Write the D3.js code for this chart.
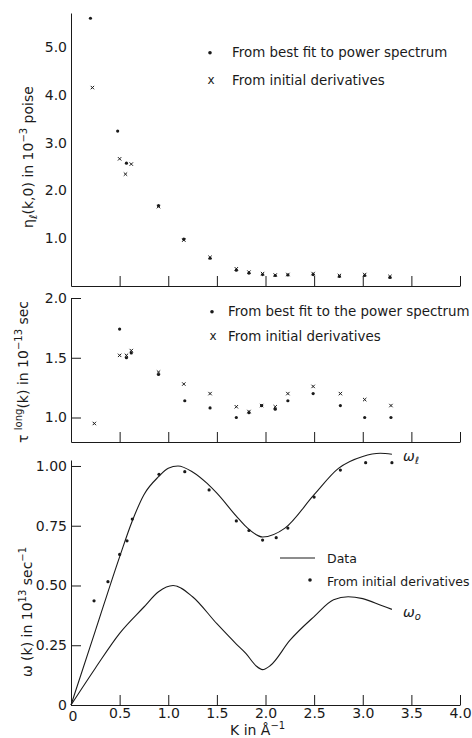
<!DOCTYPE html>
<html>
<head>
<meta charset="utf-8">
<script src="https://cdn.jsdelivr.net/npm/d3@7"></script>
<style>
  body { margin: 0; background: #fff; }
  svg { display: block; }
  text { font-family: "DejaVu Sans", sans-serif; fill: #1a1a1a; }
  .axis path, .axis line { stroke: #1a1a1a; stroke-width: 1; }
  .axis text { font-size: 14px; font-family: "DejaVu Sans", sans-serif; fill: #1a1a1a; }
</style>
</head>
<body>
<script>
// 數據: 上圖 eta_l(k,0)
const etaDotK   = [0.2, 0.48, 0.57, 0.9, 1.16, 1.43, 1.7, 1.83, 1.97, 2.1, 2.23, 2.49, 2.76, 3.02, 3.28];
const etaDotV   = [5.6, 3.24, 2.57, 1.68, 0.98, 0.58, 0.33, 0.27, 0.24, 0.22, 0.23, 0.24, 0.20, 0.22, 0.18];
const etaCrossK = [0.22, 0.5, 0.56, 0.62, 0.9, 1.16, 1.43, 1.7, 1.83, 1.97, 2.1, 2.23, 2.49, 2.76, 3.02, 3.28];
const etaCrossV = [4.15, 2.66, 2.34, 2.55, 1.66, 0.96, 0.60, 0.36, 0.29, 0.26, 0.23, 0.24, 0.26, 0.22, 0.24, 0.20];

// 中圖 tau long(k)
const tauDotK   = [0.5, 0.57, 0.62, 0.9, 1.17, 1.43, 1.7, 1.83, 1.96, 2.1, 2.23, 2.49, 2.77, 3.02, 3.29];
const tauDotV   = [1.74, 1.50, 1.54, 1.36, 1.14, 1.08, 1.0, 1.04, 1.10, 1.07, 1.14, 1.20, 1.10, 1.0, 1.0];
const tauCrossK = [0.24, 0.5, 0.57, 0.62, 0.9, 1.16, 1.43, 1.7, 1.83, 1.96, 2.1, 2.23, 2.49, 2.77, 3.02, 3.29];
const tauCrossV = [0.95, 1.52, 1.52, 1.56, 1.38, 1.28, 1.20, 1.09, 1.05, 1.10, 1.09, 1.20, 1.26, 1.20, 1.15, 1.10];

// 下圖 omega(k)
const omDotK = [0.237, 0.38, 0.5, 0.576, 0.63, 0.905, 1.17, 1.42, 1.70, 1.83, 1.97, 2.11, 2.23, 2.5, 2.77, 3.03, 3.30];
const omDotV = [0.436, 0.516, 0.63, 0.687, 0.778, 0.965, 0.976, 0.90, 0.77, 0.73, 0.69, 0.70, 0.74, 0.87, 0.983, 1.014, 1.014];
const omegaLK = [0, 0.25, 0.5, 0.63, 0.75, 0.9, 1.0, 1.1, 1.25, 1.4, 1.5, 1.7, 1.8, 1.97, 2.2, 2.5, 2.75, 3.0, 3.18, 3.3];
const omegaLV = [0, 0.31, 0.62, 0.77, 0.88, 0.955, 0.99, 1.0, 0.975, 0.927, 0.886, 0.79, 0.746, 0.703, 0.74, 0.88, 0.99, 1.04, 1.053, 1.049];
const omega0K = [0, 0.25, 0.5, 0.75, 0.9, 1.05, 1.25, 1.5, 1.7, 1.8, 1.9, 1.97, 2.05, 2.25, 2.5, 2.7, 2.85, 3.0, 3.2, 3.3];
const omega0V = [0, 0.154, 0.30, 0.41, 0.474, 0.50, 0.453, 0.34, 0.255, 0.215, 0.165, 0.148, 0.165, 0.27, 0.37, 0.44, 0.453, 0.445, 0.415, 0.40];

// 刻度
const xTicks = [0.5, 1.0, 1.5, 2.0, 2.5, 3.0, 3.5, 4.0];
const etaTicks = [1.0, 2.0, 3.0, 4.0, 5.0];
const tauTicks = [1.0, 1.5, 2.0];
const omTicks = [0, 0.25, 0.5, 0.75, 1.0];

const width = 472, height = 738;

const svg = d3.select("body").append("svg")
  .attr("width", width)
  .attr("height", height);

// 共用 x 比例尺
const x = d3.scaleLinear().domain([0, 4]).range([71, 460]);

// 各面板 y 比例尺
const yEta = d3.scaleLinear().domain([0, 5.71]).range([286, 13]);
const yTau = d3.scaleLinear().domain([0.795, 2.0]).range([442, 298]);
const yOm  = d3.scaleLinear().domain([0, 1.025]).range([705, 460]);

const fmt1 = d => d === 0 ? "0" : d3.format(".1f")(d);
const fmt2 = d => d === 0 ? "0" : d3.format(".2f")(d);

function drawXAxis(y0, ticks, withLabels) {
  const ax = d3.axisBottom(x)
    .tickValues(ticks)
    .tickSizeInner(-10)
    .tickSizeOuter(0)
    .tickPadding(3)
    .tickFormat(withLabels ? fmt1 : "");
  svg.append("g")
    .attr("class", "axis")
    .attr("transform", `translate(0,${y0})`)
    .call(ax);
}

function drawYAxis(scale, ticks, size, fmt) {
  const ax = d3.axisLeft(scale)
    .tickValues(ticks)
    .tickSizeInner(size)
    .tickSizeOuter(0)
    .tickPadding(4)
    .tickFormat(fmt);
  svg.append("g")
    .attr("class", "axis")
    .attr("transform", `translate(${x(0)},0)`)
    .call(ax);
}

// 上圖軸
drawXAxis(286, xTicks, false);
drawYAxis(yEta, etaTicks, 0, fmt1);
// 中圖軸
drawXAxis(442, xTicks, false);
drawYAxis(yTau, tauTicks, -10, fmt1);
// 下圖軸
drawXAxis(705, xTicks, true);
svg.append("text").attr("x", x(0) + 2).attr("y", 721)
  .attr("text-anchor", "middle").style("font-size", "14px").text("0");
drawYAxis(yOm, omTicks, -10, fmt2);

// 點與叉號
function dots(ks, vs, y) {
  svg.append("g").selectAll("circle")
    .data(ks.map((k, i) => [k, vs[i]]))
    .join("circle")
    .attr("cx", d => x(d[0]))
    .attr("cy", d => y(d[1]))
    .attr("r", 1.6)
    .attr("fill", "#1a1a1a");
}
function crosses(ks, vs, y) {
  const s = 1.7;
  svg.append("g").selectAll("path")
    .data(ks.map((k, i) => [k, vs[i]]))
    .join("path")
    .attr("d", d => {
      const cx = x(d[0]), cy = y(d[1]);
      return `M${cx - s},${cy - s}L${cx + s},${cy + s}M${cx + s},${cy - s}L${cx - s},${cy + s}`;
    })
    .attr("stroke", "#1a1a1a")
    .attr("stroke-width", 1);
}

dots(etaDotK, etaDotV, yEta);
crosses(etaCrossK, etaCrossV, yEta);
dots(tauDotK, tauDotV, yTau);
crosses(tauCrossK, tauCrossV, yTau);

// 下圖曲線
const line = d3.line()
  .x(d => x(d[0]))
  .y(d => yOm(d[1]))
  .curve(d3.curveMonotoneX);

svg.append("path")
  .datum(omegaLK.map((k, i) => [k, omegaLV[i]]))
  .attr("d", line)
  .attr("fill", "none")
  .attr("stroke", "#1a1a1a")
  .attr("stroke-width", 1.1);

svg.append("path")
  .datum(omega0K.map((k, i) => [k, omega0V[i]]))
  .attr("d", line)
  .attr("fill", "none")
  .attr("stroke", "#1a1a1a")
  .attr("stroke-width", 1.1);

dots(omDotK, omDotV, yOm);

// 曲線標籤
const wl = svg.append("text").attr("x", 403).attr("y", 461).style("font-size", "14px").style("font-style", "italic");
wl.append("tspan").text("ω");
wl.append("tspan").attr("dy", 3).style("font-size", "10px").text("ℓ");
const wo = svg.append("text").attr("x", 403).attr("y", 617).style("font-size", "14px").style("font-style", "italic");
wo.append("tspan").text("ω");
wo.append("tspan").attr("dy", 3).style("font-size", "10px").text("o");

// 圖例
const legFont = "13.4px";
function legendDot(cx, cy) {
  svg.append("circle").attr("cx", cx).attr("cy", cy).attr("r", 1.8).attr("fill", "#1a1a1a");
}
function legendText(tx, ty, str, size) {
  svg.append("text").attr("x", tx).attr("y", ty).style("font-size", size || legFont).text(str);
}
legendDot(210, 52.7);
legendText(232, 57, "From best fit to power spectrum");
svg.append("text").attr("x", 211).attr("y", 84).attr("text-anchor", "middle").style("font-size", "12px").text("x");
legendText(232, 85, "From initial derivatives");

legendDot(212, 311.7);
legendText(228, 316, "From best fit to the power spectrum");
svg.append("text").attr("x", 213).attr("y", 340).attr("text-anchor", "middle").style("font-size", "12px").text("x");
legendText(228, 341, "From initial derivatives");

svg.append("line").attr("x1", 280).attr("x2", 315).attr("y1", 558).attr("y2", 558)
  .attr("stroke", "#1a1a1a").attr("stroke-width", 1);
legendText(327, 563, "Data", "12.5px");
legendDot(310, 580);
legendText(327, 586, "From initial derivatives", "12.5px");

// y 軸標題
function yTitle(tx, ty, parts) {
  const t = svg.append("text")
    .attr("transform", `translate(${tx},${ty}) rotate(-90)`)
    .attr("text-anchor", "middle")
    .style("font-size", "14px");
  parts.forEach(p => {
    t.append("tspan")
      .attr("dy", p.dy || 0)
      .style("font-size", p.size || "14px")
      .text(p.s);
  });
}
yTitle(33, 157, [
  { s: "η" },
  { s: "ℓ", dy: 4, size: "11px" },
  { s: "(k,0) in 10", dy: -4 },
  { s: "−3", dy: -6, size: "10px" },
  { s: " poise", dy: 6 }
]);
yTitle(28, 372, [
  { s: "τ " },
  { s: "long", dy: -6, size: "10px" },
  { s: "(k) in 10", dy: 6 },
  { s: "−13", dy: -6, size: "10px" },
  { s: " sec", dy: 6 }
]);
yTitle(32, 612, [
  { s: "ω (k) in 10" },
  { s: "13", dy: -6, size: "10px" },
  { s: " sec", dy: 6 },
  { s: "−1", dy: -6, size: "10px" }
]);

// x 軸標題
const xt = svg.append("text").attr("x", 230).attr("y", 735).style("font-size", "14px");
xt.append("tspan").text("K in Å");
xt.append("tspan").attr("dy", -6).style("font-size", "10px").text("−1");
</script>
</body>
</html>
